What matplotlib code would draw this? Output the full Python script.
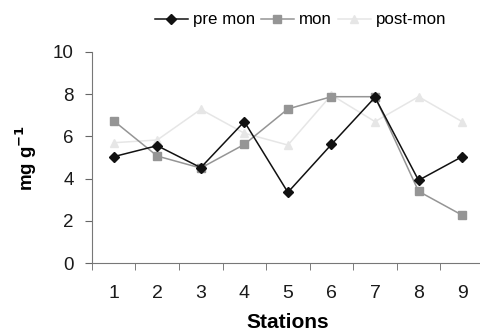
import matplotlib
matplotlib.use('Agg')
from matplotlib import pyplot as plt
import numpy as np

plt.rcParams['font.family'] = ['Liberation Sans', 'DejaVu Sans']

stations = [1, 2, 3, 4, 5, 6, 7, 8, 9]
pre_mon = [5.04, 5.56, 4.52, 6.70, 3.35, 5.62, 7.85, 3.92, 5.04]
mon = [6.74, 5.07, 4.50, 5.62, 7.30, 7.88, 7.88, 3.40, 2.27]
post_mon = [5.70, 5.83, 7.28, 6.15, 5.59, 7.96, 6.70, 7.88, 6.70]

fig = plt.figure(figsize=(4.81, 3.33), dpi=100)
ax = fig.add_axes([0.191, 0.210, 0.815, 0.634])

ax.plot(stations, post_mon, color='#e6e6e6', marker='^', markersize=6, lw=1.1, label='post-mon', zorder=1)
ax.plot(stations, mon, color='#959595', marker='s', markersize=5.2, lw=1.1, label='mon', zorder=2)
ax.plot(stations, pre_mon, color='#111111', marker='D', markersize=5, lw=1.1, label='pre mon', zorder=3)

ax.set_xlim(0.5, 9.5)
ax.set_ylim(0, 10)
ax.set_yticks([0, 2, 4, 6, 8, 10])
ax.set_xticks(stations)
ax.set_xticks(np.arange(0.5, 9.5, 1.0), minor=True)
ax.tick_params(axis='x', which='major', length=0, labelsize=14, pad=16, colors='#1a1a1a')
ax.tick_params(axis='x', which='minor', length=5, direction='out', color='#666666')
ax.tick_params(axis='y', length=5, direction='out', labelsize=13.5, color='#666666', labelcolor='#1a1a1a', pad=8)

for s in ['top', 'right']:
    ax.spines[s].set_visible(False)
for s in ['left', 'bottom']:
    ax.spines[s].set_color('#777777')

ax.set_xlabel('Stations', fontsize=15, fontweight='bold', labelpad=8)
ax.set_ylabel('mg g$^{\\mathbf{-1}}$', fontsize=13.5, fontweight='bold')
ax.yaxis.set_label_coords(-0.135, 0.5)

handles, labels = ax.get_legend_handles_labels()
fig.legend(handles[::-1], labels[::-1], loc='center', bbox_to_anchor=(0.625, 0.94), ncol=3,
           frameon=False, fontsize=12.2, handlelength=1.95, handletextpad=0.3, columnspacing=0.35)

fig.savefig('out.png', dpi=100)
